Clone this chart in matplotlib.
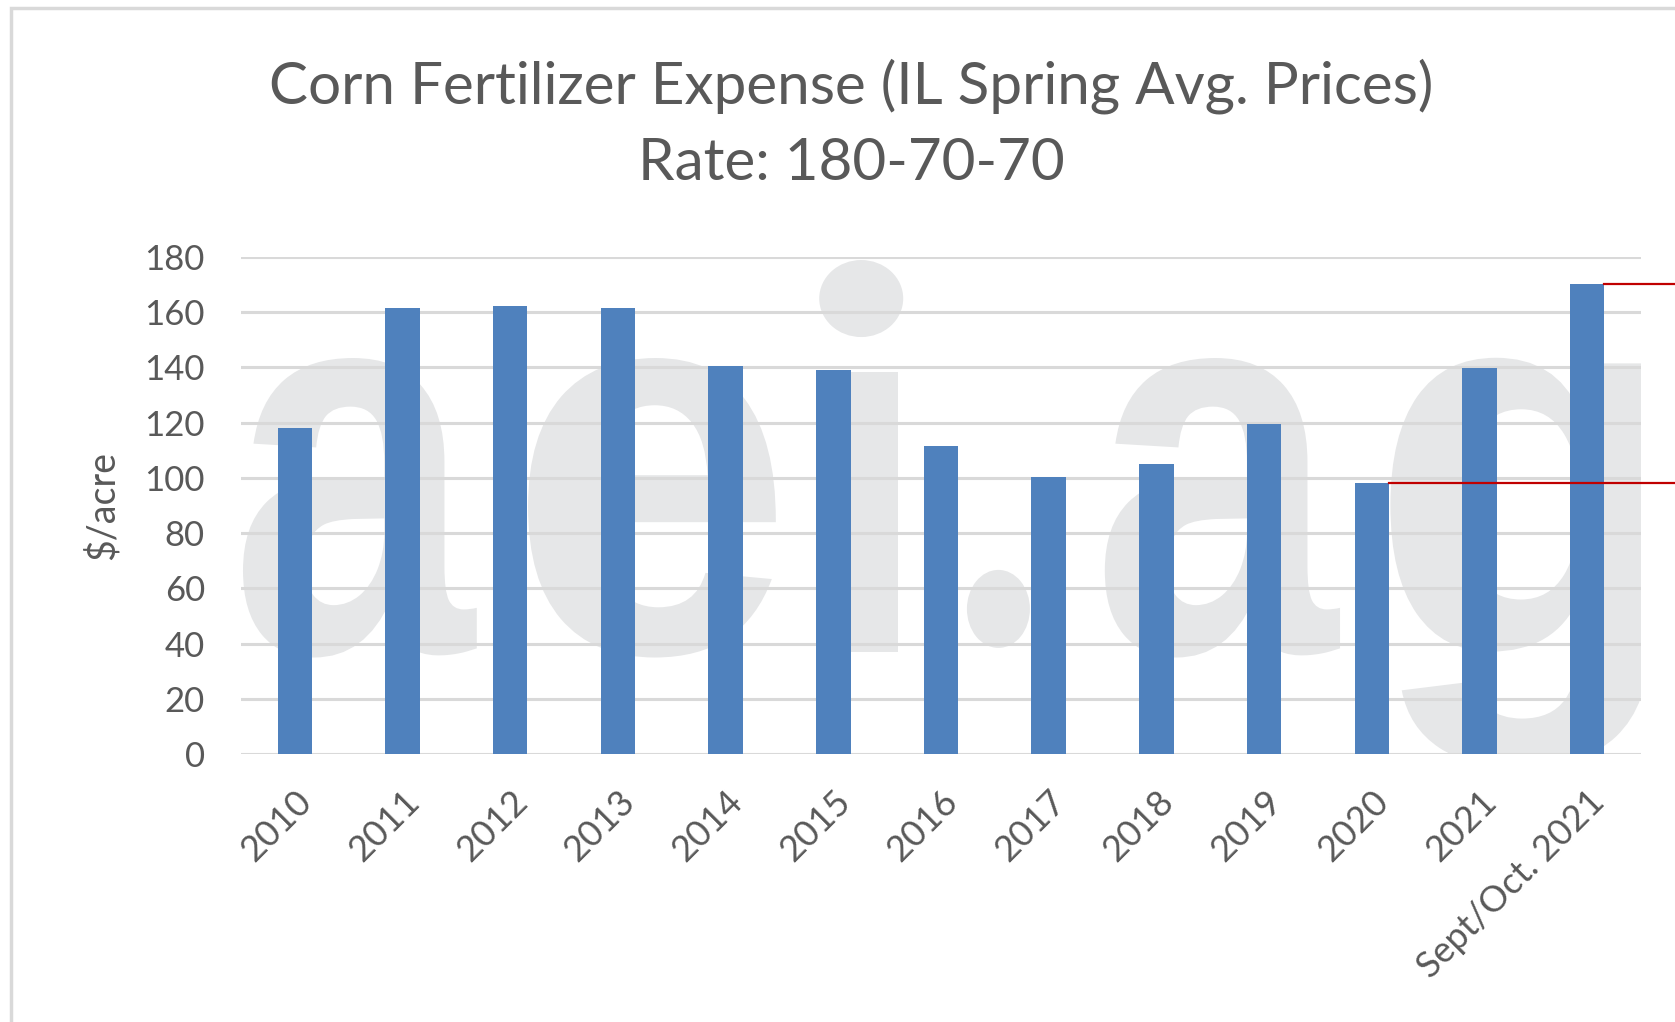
import matplotlib.pyplot as plt
from matplotlib.patches import Rectangle, PathPatch, Ellipse
from matplotlib.textpath import TextPath
from matplotlib.font_manager import FontProperties
from matplotlib.transforms import Affine2D
import numpy as np

# data
categories = ['2010', '2011', '2012', '2013', '2014', '2015', '2016',
              '2017', '2018', '2019', '2020', '2021', 'Sept/Oct. 2021']
values = [118, 161.5, 162.2, 161.5, 140.5, 139, 111.5,
          100.3, 105, 119.6, 98.3, 139.8, 170.3]
y_ticks = [0, 20, 40, 60, 80, 100, 120, 140, 160, 180]

BAR_COLOR = '#4F81BD'
GRID_COLOR = '#D9D9D9'
TEXT_COLOR = '#595959'
WM_COLOR = '#E6E7E8'
FONT = 'Lato'

fig = plt.figure(figsize=(16.75, 10.22), dpi=100)
ax = fig.add_axes([0.1439, 0.2622, 0.8358, 0.4863])

# chart frame
fig.patches.append(Rectangle((11 / 1675, -0.1), 1.2, 1 - 8 / 1022 + 0.1,
                             transform=fig.transFigure, fill=False,
                             edgecolor='#D9D9D9', linewidth=2.5))

x = np.arange(len(categories))

# "aei.ag" watermark behind the bars (axes fractions)
wm_letters = ['a', 'e', 'a', 'g']
wm_left = [0.0014, 0.205, 0.617, 0.821]
wm_width = [0.167, 0.177, 0.168, 0.186]
WM_BASE = 0.205
WM_XHEIGHT = 0.581
fp = FontProperties(family='Liberation Sans', weight='bold')
xh = TextPath((0, 0), 'x', size=1, prop=fp).get_extents().height
sy = WM_XHEIGHT / xh
for ch, left, w in zip(wm_letters, wm_left, wm_width):
    p = TextPath((0, 0), ch, size=1, prop=fp)
    ext = p.get_extents()
    tr = Affine2D().translate(-ext.x0, 0).scale(w / ext.width, sy).translate(left, WM_BASE) + ax.transAxes
    ax.add_patch(PathPatch(p, transform=tr, facecolor=WM_COLOR, edgecolor='none', zorder=0))
# the "i" and the "." have rounded dots
ax.add_patch(Rectangle((0.413, WM_BASE), 0.0564, 0.769 - WM_BASE, transform=ax.transAxes,
                       facecolor=WM_COLOR, edgecolor='none', zorder=0))
ax.add_patch(Ellipse((0.443, 0.9165), 0.06, 0.155, transform=ax.transAxes,
                     facecolor=WM_COLOR, edgecolor='none', zorder=0))
ax.add_patch(Ellipse((0.541, 0.292), 0.045, 0.157, transform=ax.transAxes,
                     facecolor=WM_COLOR, edgecolor='none', zorder=0))

ax.bar(x, values, width=0.32, color=BAR_COLOR, zorder=3)

# red reference lines to the right edge
ax.plot([x[10] + 0.16, 14], [values[10], values[10]], color='#C00000',
        linewidth=1.6, clip_on=False, zorder=4)
ax.plot([x[12] + 0.16, 14], [values[12], values[12]], color='#C00000',
        linewidth=1.6, clip_on=False, zorder=4)

ax.set_xlim(-0.5, len(categories) - 0.5)
ax.set_ylim(0, 180)
ax.set_yticks(y_ticks)
ax.set_yticklabels([str(t) for t in y_ticks], fontsize=25, color=TEXT_COLOR, family=FONT)
ax.set_xticks(x)
ax.set_xticklabels(categories, rotation=45, ha='right', rotation_mode='anchor',
                   fontsize=26, color=TEXT_COLOR, family=FONT)
ax.tick_params(axis='both', length=0)
ax.tick_params(axis='y', pad=26)
ax.tick_params(axis='x', pad=22)

ax.grid(axis='y', color=GRID_COLOR, linewidth=2.2, zorder=1)
ax.set_axisbelow(True)
for s in ax.spines.values():
    s.set_visible(False)

ax.set_ylabel('$/acre', fontsize=27, color=TEXT_COLOR, family=FONT, labelpad=17)

fig.text(0.508, 0.916, 'Corn Fertilizer Expense (IL Spring Avg. Prices)',
         ha='center', va='center', fontsize=42, color=TEXT_COLOR, family=FONT)
fig.text(0.508, 0.840, 'Rate: 180-70-70',
         ha='center', va='center', fontsize=42, color=TEXT_COLOR, family=FONT)

fig.savefig('out.png', dpi=100)
